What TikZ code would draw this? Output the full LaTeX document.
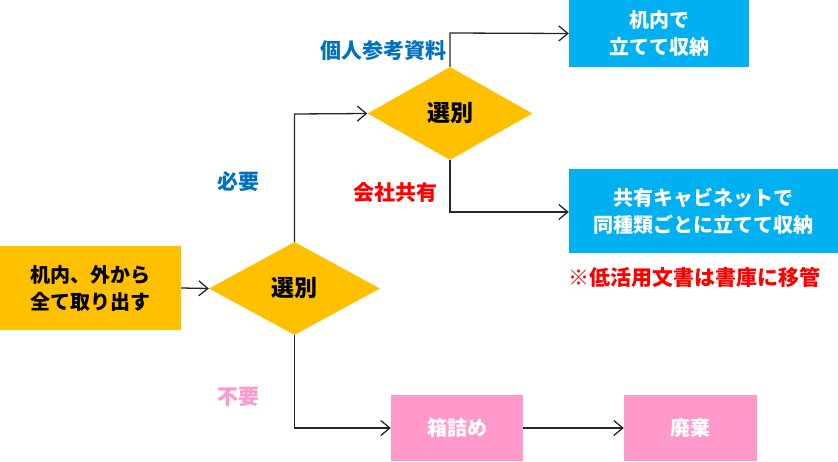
\documentclass[tikz,border=0pt]{standalone}
\usepackage{fontspec}
\setmainfont{Noto Sans CJK JP}
\usetikzlibrary{shapes.geometric,arrows.meta}
\definecolor{cyellow}{HTML}{FFC000}
\definecolor{ccyan}{HTML}{00B0F0}
\definecolor{cpink}{HTML}{FF99CC}
\definecolor{cblue}{HTML}{0070C0}
\definecolor{cred}{HTML}{FF0000}
\tikzset{
  box/.style={rectangle, inner sep=0pt, align=center, font=\fontsize{20}{27}\selectfont\bfseries},
  ybox/.style={box, fill=cyellow, text=black},
  cbox/.style={box, fill=ccyan, text=white},
  pbox/.style={box, fill=cpink, text=white},
  dia/.style={diamond, fill=cyellow, inner sep=0pt, font=\fontsize{23}{26}\selectfont\bfseries},
  lab/.style={inner sep=0pt, font=\fontsize{21}{24}\selectfont\bfseries},
  conn/.style={line width=1.3pt, draw=black!85, -{Straight Barb[length=9pt,width=15pt,line width=1.3pt]}},
}
\begin{document}
\begin{tikzpicture}[x=1pt,y=-1pt]
\useasboundingbox (0,0) rectangle (838,461);
\node[ybox, minimum width=181, minimum height=84] (start) at (90.5,288) {机内、外から\\全て取り出す};
\node[dia, minimum width=171, minimum height=93] (d1) at (294.5,288.5) {選別};
\node[dia, minimum width=165, minimum height=93] (d2) at (450,113.5) {選別};
\node[cbox, minimum width=180, minimum height=67] (b1) at (659,33.5) {机内で\\立てて収納};
\node[cbox, minimum width=269, minimum height=84] (b2) at (703.5,211) {共有キャビネットで\\同種類ごとに立てて収納};
\node[pbox, minimum width=132, minimum height=66] (p1) at (457,428) {箱詰め};
\node[pbox, minimum width=133, minimum height=66] (p2) at (690.5,428) {廃棄};
\coordinate (c1) at (294.5,114);
\coordinate (c2) at (294.5,428);
\coordinate (c3) at (450,33);
\coordinate (c4) at (450,212);
\draw[conn] (start.east) -- (d1.west);
\draw[conn] (d1.north) -- (c1) -- (d2.west);
\draw[conn] (d1.south) -- (c2) -- (p1.west);
\draw[conn] (d2.north) -- (c3) -- (b1.west);
\draw[conn] (d2.south) -- (c4) -- (c4 -| b2.west);
\draw[conn] (p1.east) -- (p2.west);
\node[lab, text=cblue] (l1) at (238,182) {必要};
\node[lab, text=cpink] (l2) at (238,397) {不要};
\node[lab, text=cblue] (l3) at (383.5,51) {個人参考資料};
\node[lab, text=cred] (l4) at (395.5,193) {会社共有};
\node[lab, text=cred] (l5) at (694.5,277) {※低活用文書は書庫に移管};
\end{tikzpicture}
\end{document}
